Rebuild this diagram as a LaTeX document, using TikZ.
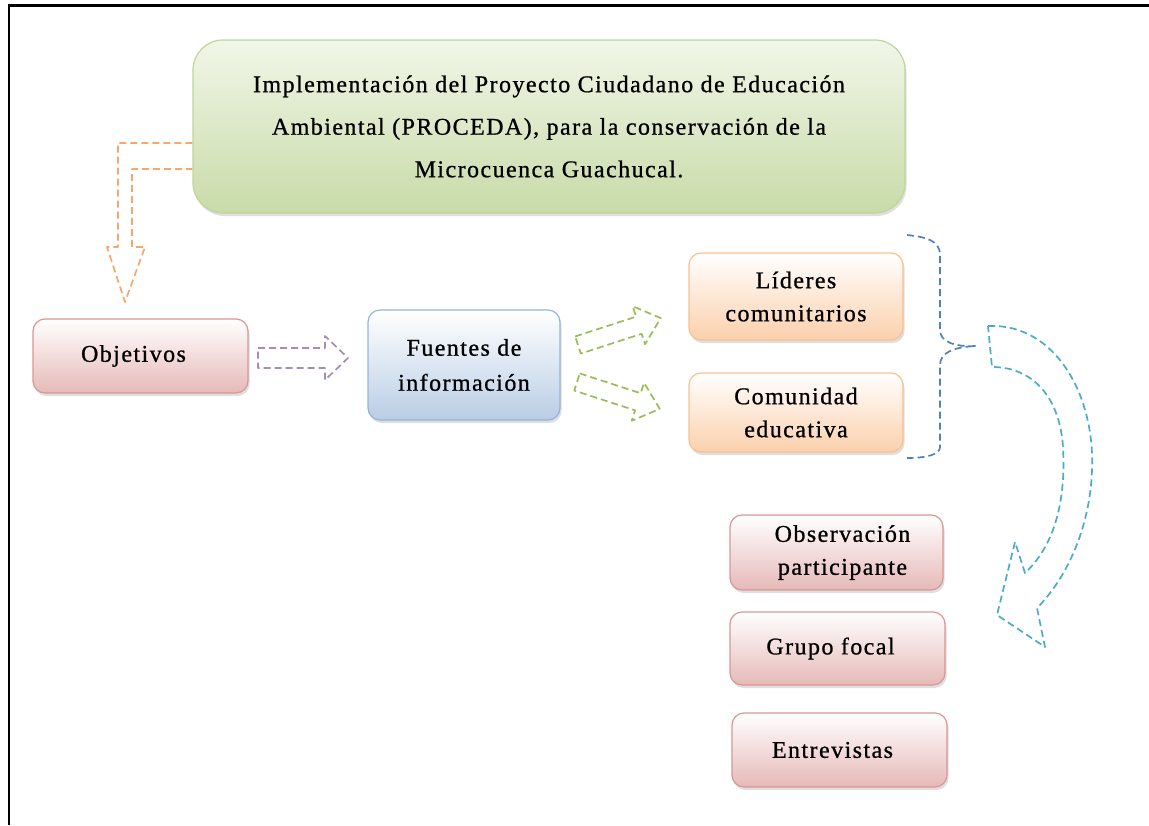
\documentclass[tikz,border=0pt]{standalone}
\usepackage{fontspec}
\setmainfont[LetterSpace=6,FakeBold=0.8]{Liberation Serif}
\usetikzlibrary{shadows}
\definecolor{grnTop}{HTML}{F1F6E8}
\definecolor{grnBot}{HTML}{C8DBA8}
\definecolor{grnLine}{HTML}{BFD59A}
\definecolor{pnkBot}{HTML}{E6B9B8}
\definecolor{pnkLine}{HTML}{D99694}
\definecolor{bluBot}{HTML}{B9CDE5}
\definecolor{bluLine}{HTML}{95B3D7}
\definecolor{orgBot}{HTML}{FBD0AC}
\definecolor{orgLine}{HTML}{FAC090}
\definecolor{arOrange}{HTML}{F9A66B}
\definecolor{arPurple}{HTML}{A48BC0}
\definecolor{arGreen}{HTML}{9BBB59}
\definecolor{arBlue}{HTML}{4F81BD}
\definecolor{arCyan}{HTML}{4BACC6}
\begin{document}
\begin{tikzpicture}[x=1pt,y=-1pt,
  box/.style={rounded corners=12pt, draw, line width=1.2pt, align=center,
    font=\fontsize{24}{33}\selectfont, inner sep=0pt, shading=axis,
    drop shadow={opacity=0.25, shadow xshift=1.5pt, shadow yshift=-3pt}},
  greenbox/.style={box, rounded corners=30pt, top color=grnTop, bottom color=grnBot, draw=grnLine,
    font=\fontsize{24}{42.5}\selectfont},
  pinkbox/.style={box, top color=white, bottom color=pnkBot, draw=pnkLine},
  bluebox/.style={box, top color=white, bottom color=bluBot, draw=bluLine,
    font=\fontsize{24}{35}\selectfont},
  orangebox/.style={box, top color=white, bottom color=orgBot, draw=orgLine},
  dashline/.style={line width=1.7pt, dash pattern=on 7pt off 4pt, line join=round},
]
\useasboundingbox (0,0) rectangle (1149,825);
% frame (top and left)
\draw[line width=3pt] (8,5) -- (1149,5);
\draw[line width=2.5pt] (9,4) -- (9,825);

% nodes
\node[greenbox, minimum width=712pt, minimum height=173pt] (top) at (549,126.5)
  {Implementación del Proyecto Ciudadano de Educación\\Ambiental (PROCEDA), para la conservación de la\\Microcuenca Guachucal.};
\node[pinkbox, minimum width=215pt, minimum height=74pt] (obj) at (140.5,356) {Objetivos\hspace*{14pt}};
\node[bluebox, minimum width=192pt, minimum height=110pt] (fue) at (464,365) {Fuentes de\\información};
\node[orangebox, minimum width=214pt, minimum height=87pt] (lid) at (796,296.5) {Líderes\\comunitarios};
\node[orangebox, minimum width=214pt, minimum height=79pt] (com) at (796,412.5) {Comunidad\\educativa};
\node[pinkbox, minimum width=213pt, minimum height=75pt] (obs) at (836.5,552.5) {\hspace*{12pt}Observación\\\hspace*{12pt}participante};
\node[pinkbox, minimum width=215pt, minimum height=73pt] (gru) at (837.5,648.5) {Grupo focal\hspace*{14pt}};
\node[pinkbox, minimum width=215pt, minimum height=74pt] (ent) at (839.5,750) {Entrevistas\hspace*{14pt}};

% orange bent arrow from top box to Objetivos
\draw[dashline, draw=arOrange] (top.west |- 0,143) -- (118,143) -- (118,247) -- (107,247)
  -- (125,302) -- (145,247) -- (132,247) -- (132,169) -- (top.west |- 0,169);

% purple arrow Objetivos -> Fuentes
\draw[dashline, draw=arPurple] (258,348) -- (325,348) -- (325,336) -- (348,358)
  -- (325,380) -- (325,368) -- (258,368) -- cycle;

% green arrows Fuentes -> Lideres / Comunidad
\begin{scope}[shift={(578,345)}, rotate=18]
  \draw[dashline, draw=arGreen] (0,-9) -- (64,-9) -- (64,-20) -- (87,0) -- (64,20) -- (64,9) -- (0,9) -- cycle;
\end{scope}
\begin{scope}[shift={(577,382)}, rotate=-18]
  \draw[dashline, draw=arGreen] (0,-9) -- (64,-9) -- (64,-20) -- (87,0) -- (64,20) -- (64,9) -- (0,9) -- cycle;
\end{scope}

% brace
\draw[dashline, draw=arBlue] (907,235) .. controls (925,237) and (940,240) .. (940,255) -- (940,330)
  .. controls (940,342) and (955,347) .. (976,346)
  .. controls (955,347) and (940,352) .. (940,365) -- (940,447)
  .. controls (940,455) and (925,458) .. (907,458);

% curved arrow
\draw[dashline, draw=arCyan] (988,326) -- (997,326)
  .. controls (1060,330) and (1095,400) .. (1092,470)
  .. controls (1090,530) and (1065,580) .. (1037,608)
  -- (1045,647) -- (997,615) -- (1015,542) -- (1025,573)
  .. controls (1055,545) and (1066,500) .. (1063,447)
  .. controls (1060,400) and (1035,367) .. (992,367) -- cycle;
\end{tikzpicture}
\end{document}
